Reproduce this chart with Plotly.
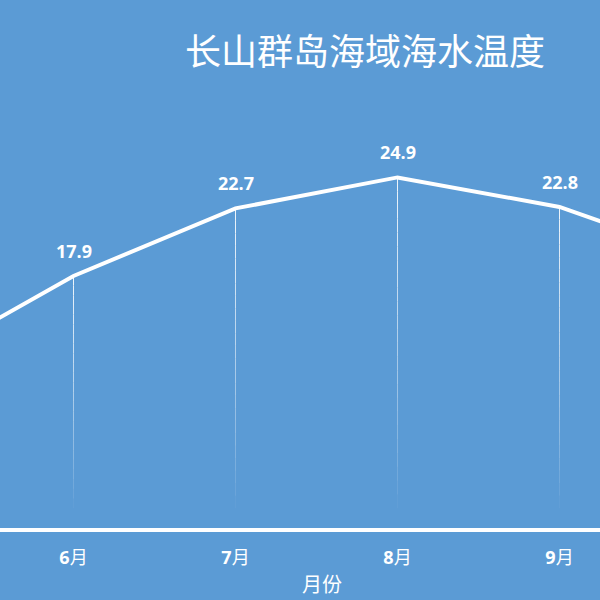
import plotly.graph_objects as go

months = ["5月", "6月", "7月", "8月", "9月", "10月"]
temps = [11.4, 17.9, 22.7, 24.9, 22.8, 18.8]
title_text = "长山群岛海域海水温度"
x_title = "月份"

BG = "#5B9BD5"
xpos = list(range(len(months)))

fig = go.Figure()

fig.add_trace(go.Scatter(
    x=xpos, y=temps, mode="lines",
    line=dict(color="white", width=4),
    hoverinfo="skip", showlegend=False,
))

# gradient drop lines (fade to transparent towards the axis)
shapes = []
N = 24
bottom = 1.4
for xi, v in zip(xpos, temps):
    for k in range(N):
        y1 = v - (v - bottom) * k / N
        y2 = v - (v - bottom) * (k + 1) / N
        op = 0.9 * (1 - (k + 0.5) / N) ** 0.8
        shapes.append(dict(type="line", xref="x", yref="y", x0=xi, x1=xi,
                           y0=y1, y1=y2, layer="below",
                           line=dict(color=f"rgba(255,255,255,{op:.3f})", width=1)))

PLOT_H = 528
annotations = []
for xi, v in zip(xpos, temps):
    annotations.append(dict(x=xi, y=v, xref="x", yref="y", text=f"<b>{v}</b>",
                            showarrow=False, yshift=25,
                            font=dict(family="Open Sans, Noto Sans CJK SC", size=18, color="white")))
annotations.append(dict(x=322 / 600, y=-(583 - PLOT_H) / PLOT_H, xref="paper", yref="paper",
                        text=x_title, showarrow=False, yanchor="middle",
                        font=dict(family="Noto Sans CJK SC", size=20, color="white")))

ticktext = [f"<b>{m[:-1]}</b>{m[-1]}" for m in months]

fig.update_layout(
    width=600, height=600,
    paper_bgcolor=BG, plot_bgcolor=BG,
    margin=dict(l=0, r=0, t=0, b=600 - PLOT_H, pad=0),
    title=dict(text=title_text, x=365 / 600, xanchor="center", y=1 - 52 / 600,
               yanchor="middle", yref="container",
               font=dict(family="Noto Sans CJK SC", size=36, color="white")),
    xaxis=dict(range=[1 - 73.5 / 162, 1 - 73.5 / 162 + 600 / 162],
               tickvals=xpos, ticktext=ticktext, showgrid=False, zeroline=False,
               showline=True, linecolor="white", linewidth=4, ticks="",
               ticklabelstandoff=10,
               tickfont=dict(family="Open Sans, Noto Sans CJK SC", size=18, color="white")),
    yaxis=dict(range=[0, PLOT_H / 14.08], visible=False, showgrid=False, zeroline=False),
    shapes=shapes, annotations=annotations, showlegend=False,
)

fig.write_html("out.html", config={"displayModeBar": False},
               post_script="document.body.style.margin='0';")
